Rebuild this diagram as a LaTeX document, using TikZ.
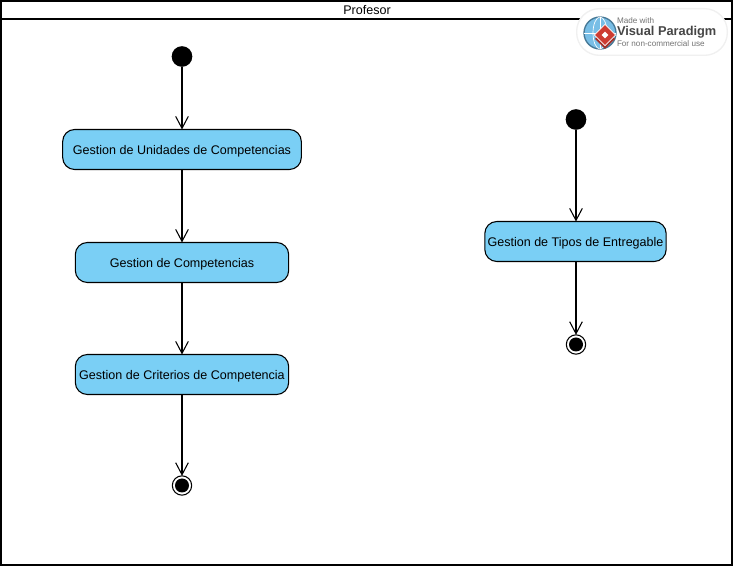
\documentclass[tikz,border=0pt]{standalone}
\usepackage{fontspec}
\setmainfont{Liberation Sans}
\usetikzlibrary{arrows.meta,shapes.geometric}
\definecolor{actblue}{RGB}{122,207,245}
\definecolor{globeblue}{RGB}{120,190,230}
\definecolor{globedark}{RGB}{70,120,150}
\definecolor{markred}{RGB}{205,60,50}
\definecolor{markgray}{RGB}{70,70,70}
\begin{document}
\begin{tikzpicture}[x=0.75pt,y=-0.75pt,inner sep=0pt,outer sep=0pt,line width=0.8pt,
>={Straight Barb[length=9pt,width=9.5pt,line width=0.8pt]},
actblock/.style={draw,rectangle,rounded corners=9pt,fill=actblue,minimum height=30pt,text height=8pt,text depth=1pt,font=\fontsize{9.4}{11}\selectfont},
startdot/.style={circle,fill=black,minimum size=15.5pt},
enddot/.style={circle,fill=black,minimum size=10.5pt},
endring/.style={circle,draw,fill=white,minimum size=14.5pt}]
\useasboundingbox (0,0) rectangle (733,566);
% frame
\coordinate (nw) at (1,1);
\coordinate (se) at (732,565);
\coordinate (hl) at (1,19);
\coordinate (hr) at (732,19);
\draw[line width=1.5pt] (nw) rectangle (se);
\draw[line width=1.5pt] (hl) -- (hr);
\draw (367,10.5) node[text height=7.5pt,text depth=1pt,font=\fontsize{9.4}{11}\selectfont] (lane) {Profesor};
% left flow
\draw (182,56.5) node[startdot] (start1) {};
\draw (182,149.5) node[actblock,minimum width=179pt] (unidades) {Gestion de Unidades de Competencias};
\draw (182,262.5) node[actblock,minimum width=160pt] (compet) {Gestion de Competencias};
\draw (182,374.5) node[actblock,minimum width=160pt] (criterios) {Gestion de Criterios de Competencia};
\draw (182,485.5) node[endring] (end1) {};
\draw (end1) node[enddot] (end1dot) {};
\draw[->] (start1) -- (unidades);
\draw[->] (unidades) -- (compet);
\draw[->] (compet) -- (criterios);
\draw[->] (criterios) -- (end1);
% right flow
\draw (576,119.5) node[startdot] (start2) {};
\draw (575.5,241.5) node[actblock,minimum width=136pt] (tipos) {Gestion de Tipos de Entregable};
\draw (576,344.5) node[endring] (end2) {};
\draw (end2) node[enddot] (end2dot) {};
\draw[->] (start2) -- (start2 |- tipos.north);
\draw[->] (tipos.south -| end2) -- (end2);
% watermark
\draw (652,32) node[draw=black!6,line width=1pt,fill=white,rectangle,rounded corners=17pt,minimum width=113pt,minimum height=35pt] (badge) {};
\draw (600,33) node[circle,draw=globedark,line width=1pt,fill=globeblue,minimum size=24pt] (globe) {};
\draw[white,line width=0.5pt] (globe) ellipse (7 and 16);
\draw[white,line width=0.5pt] (globe.west) -- (globe.east);
\draw[white,line width=0.5pt] (globe.north) -- (globe.south);
\draw (605,39) node[diamond,fill=markred!80!black,minimum size=15pt] (logolow) {};
\draw (605,35) node[diamond,fill=markred,draw=white,line width=0.5pt,minimum size=16pt] (logo) {};
\draw (logo) node[diamond,fill=white,minimum size=5pt] (logoin) {};
\draw (617,20.5) node[anchor=west,text=black!55,font=\fontsize{6.1}{7}\selectfont] (made) {Made with};
\draw (617,32) node[anchor=west,text=markgray,font=\fontsize{9.6}{11}\selectfont\bfseries] (vp) {Visual Paradigm};
\draw (617,43.5) node[anchor=west,text=black!55,font=\fontsize{6.1}{7}\selectfont] (use) {For non-commercial use};
\end{tikzpicture}
\end{document}
